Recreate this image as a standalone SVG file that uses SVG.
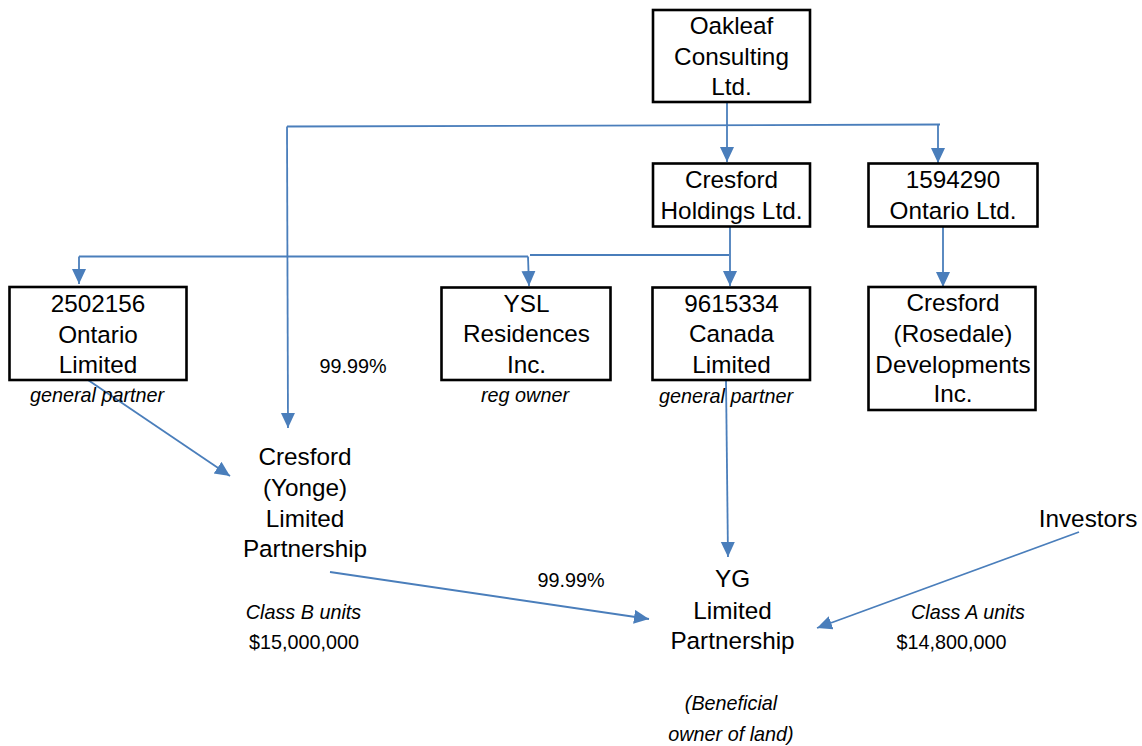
<svg xmlns="http://www.w3.org/2000/svg" width="1142" height="746" viewBox="0 0 1142 746">
  <style>
    .box { fill: #ffffff; stroke: #000000; stroke-width: 2.6; }
    .t { font-family: "Liberation Sans", Arial, sans-serif; font-size: 24.3px; fill: #000000; text-anchor: middle; }
    .s { font-family: "Liberation Sans", Arial, sans-serif; font-size: 19.8px; fill: #000000; text-anchor: middle; }
    .i { font-style: italic; }
    .c { fill: none; stroke: #4a7ebb; stroke-width: 1.8; }
  </style>
  <defs>
    <marker id="ah" markerUnits="userSpaceOnUse" markerWidth="16" markerHeight="15" refX="15" refY="7" orient="auto">
      <path d="M0,0 L15,7 L0,14 z" fill="#4a7ebb"/>
    </marker>
  </defs>
  <rect width="1142" height="746" fill="#ffffff"/>

  <g id="connectors">
    <line class="c" x1="727" y1="102" x2="727" y2="162" marker-end="url(#ah)"/>
    <line class="c" x1="287" y1="126.5" x2="940" y2="124.5"/>
    <line class="c" x1="287" y1="126.5" x2="288" y2="428" marker-end="url(#ah)"/>
    <line class="c" x1="938" y1="124.5" x2="938" y2="163" marker-end="url(#ah)"/>
    <line class="c" x1="730" y1="227" x2="730" y2="286" marker-end="url(#ah)"/>
    <line class="c" x1="530" y1="255" x2="729" y2="255"/>
    <line class="c" x1="79" y1="256.5" x2="528" y2="256.5"/>
    <line class="c" x1="528" y1="256.5" x2="529" y2="286" marker-end="url(#ah)"/>
    <line class="c" x1="79" y1="256.5" x2="79" y2="284" marker-end="url(#ah)"/>
    <line class="c" x1="943" y1="227" x2="943" y2="287" marker-end="url(#ah)"/>
    <line class="c" x1="88" y1="380" x2="230" y2="476" marker-end="url(#ah)"/>
    <line class="c" x1="726" y1="380" x2="728" y2="557" marker-end="url(#ah)"/>
    <line class="c" x1="330" y1="572" x2="649" y2="619" marker-end="url(#ah)"/>
    <line class="c" x1="1079" y1="532" x2="817" y2="628" marker-end="url(#ah)"/>
  </g>

  <g id="oakleaf">
    <rect class="box" x="653" y="10" width="157" height="92"/>
    <text class="t" x="731.5" y="33.5">Oakleaf</text>
    <text class="t" x="731.5" y="64.5">Consulting</text>
    <text class="t" x="731.5" y="95">Ltd.</text>
  </g>

  <g id="cresford-holdings">
    <rect class="box" x="653" y="163.5" width="157" height="63"/>
    <text class="t" x="731.5" y="188">Cresford</text>
    <text class="t" x="731.5" y="218.5">Holdings Ltd.</text>
  </g>

  <g id="ontario-1594290">
    <rect class="box" x="868.5" y="163.5" width="169" height="63"/>
    <text class="t" x="953" y="188">1594290</text>
    <text class="t" x="953" y="218.5">Ontario Ltd.</text>
  </g>

  <g id="ontario-2502156">
    <rect class="box" x="9.5" y="287" width="177" height="93"/>
    <text class="t" x="98" y="311.5">2502156</text>
    <text class="t" x="98" y="342.5">Ontario</text>
    <text class="t" x="98" y="373">Limited</text>
  </g>
  <text class="s i" x="97" y="402">general partner</text>

  <g id="ysl">
    <rect class="box" x="441.5" y="287.5" width="169" height="92.5"/>
    <text class="t" x="526.5" y="311.5">YSL</text>
    <text class="t" x="526.5" y="342">Residences</text>
    <text class="t" x="526.5" y="373">Inc.</text>
  </g>
  <text class="s i" x="525" y="402">reg owner</text>

  <g id="canada-9615334">
    <rect class="box" x="652.5" y="287.5" width="157.5" height="92.5"/>
    <text class="t" x="731.5" y="311.5">9615334</text>
    <text class="t" x="731.5" y="342">Canada</text>
    <text class="t" x="731.5" y="373">Limited</text>
  </g>
  <text class="s i" x="726" y="402.5">general partner</text>

  <g id="cresford-rosedale">
    <rect class="box" x="868.5" y="287" width="167" height="123"/>
    <text class="t" x="953" y="310.5">Cresford</text>
    <text class="t" x="953" y="341.5">(Rosedale)</text>
    <text class="t" x="953" y="372.5">Developments</text>
    <text class="t" x="953" y="402">Inc.</text>
  </g>

  <text class="s" x="353" y="373">99.99%</text>

  <g id="cresford-yonge">
    <text class="t" x="305" y="464.5">Cresford</text>
    <text class="t" x="305" y="495.5">(Yonge)</text>
    <text class="t" x="305" y="526.5">Limited</text>
    <text class="t" x="305" y="557">Partnership</text>
  </g>

  <text class="s" x="571" y="587">99.99%</text>
  <text class="s i" x="303.5" y="618.5">Class B units</text>
  <text class="s" x="304" y="649">$15,000,000</text>

  <g id="yg">
    <text class="t" x="732.5" y="586.5">YG</text>
    <text class="t" x="732.5" y="618.5">Limited</text>
    <text class="t" x="732.5" y="649">Partnership</text>
  </g>
  <text class="s i" x="731" y="710">(Beneficial</text>
  <text class="s i" x="731" y="740.5">owner of land)</text>

  <g id="investors">
    <text class="t" x="1088" y="526.5">Investors</text>
  </g>
  <text class="s i" x="968" y="618.5">Class A units</text>
  <text class="s" x="951.5" y="648.5">$14,800,000</text>
</svg>
